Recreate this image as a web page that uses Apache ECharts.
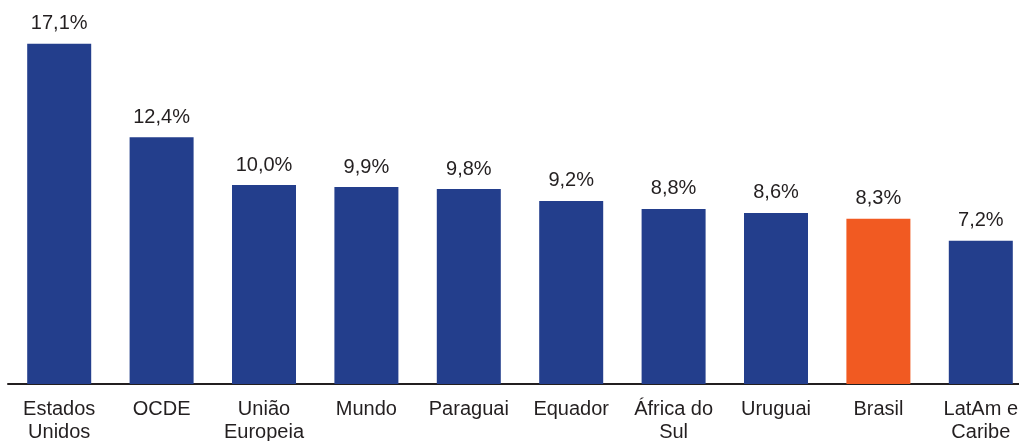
<!DOCTYPE html>
<html>
<head>
<meta charset="utf-8">
<script src="https://cdn.jsdelivr.net/npm/echarts@6/dist/echarts.min.js"></script>
<style>
  html, body { margin: 0; padding: 0; background: #fff; }
  #chart { width: 1019px; height: 441px; }
</style>
</head>
<body>
<div id="chart"></div>
<script>
// categories and values (% )
const categories = ['Estados\nUnidos', 'OCDE', 'União\nEuropeia', 'Mundo', 'Paraguai', 'Equador', 'África do\nSul', 'Uruguai', 'Brasil', 'LatAm e\nCaribe']
const values = [17.1, 12.4, 10.0, 9.9, 9.8, 9.2, 8.8, 8.6, 8.3, 7.2]
const highlight = 'Brasil'

const blue = '#233e8c'
const orange = '#f15a22'
const textColor = '#231f20'

const chart = echarts.init(document.getElementById('chart'))
chart.setOption({
  animation: false,
  grid: {
    left: 8,
    width: 1024,
    top: 6,
    bottom: 57,
    containLabel: false,
    outerBoundsMode: 'none'
  },
  xAxis: {
    type: 'category',
    data: categories,
    axisTick: { show: false },
    axisLine: { lineStyle: { color: textColor, width: 2 } },
    axisLabel: {
      color: textColor,
      fontFamily: 'Liberation Sans, Arial, sans-serif',
      fontSize: 20,
      lineHeight: 23,
      margin: 14,
      interval: 0
    }
  },
  yAxis: {
    type: 'value',
    min: 0,
    max: 19,
    show: false,
    splitLine: { show: false }
  },
  series: [
    {
      type: 'bar',
      barWidth: 64,
      data: values.map((v, i) => ({
        value: v,
        itemStyle: { color: categories[i] === highlight ? orange : blue }
      })),
      label: {
        show: true,
        position: 'top',
        distance: 10,
        color: textColor,
        fontFamily: 'Liberation Sans, Arial, sans-serif',
        fontSize: 20,
        formatter: p => p.value.toFixed(1).replace('.', ',') + '%'
      }
    }
  ]
})
</script>
</body>
</html>
